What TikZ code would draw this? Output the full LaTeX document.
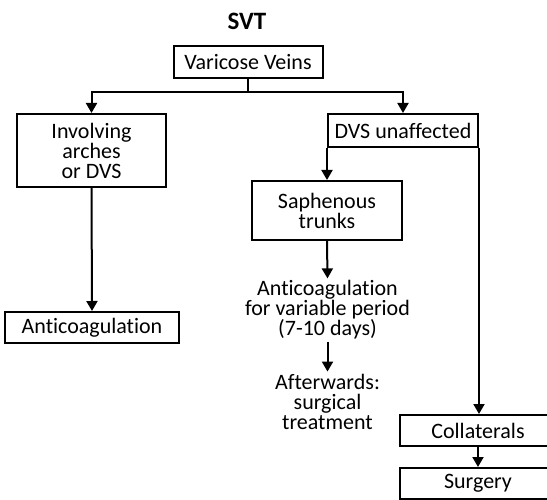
\documentclass[tikz,border=0pt]{standalone}
\usepackage{fontspec}
\setmainfont{Carlito}[Ligatures=NoCommon]
\usetikzlibrary{arrows.meta}
\begin{document}
\begin{tikzpicture}[x=1pt,y=-1pt,
  lbl/.style={font=\fontsize{22}{20}\selectfont, align=center},
  box/.style={lbl, draw, line width=2pt, inner sep=0pt},
  txt/.style={lbl, inner sep=2pt},
  arr/.style={line width=2pt, -{Triangle[width=11pt,length=10pt]}}]
\useasboundingbox (0,0) rectangle (547,500);
\clip (0,0) rectangle (547,500);
\node[font=\bfseries\fontsize{25}{30}\selectfont] (title) at (247,21) {SVT};
\node[box, minimum width=149pt, minimum height=32pt] (vv) at (248,62) {Varicose Veins};
\node[box, minimum width=149pt, minimum height=73pt] (inv) at (91.5,150.5) {Involving\\arches\\or DVS};
\node[box, minimum width=150pt, minimum height=33pt] (dvs) at (403,130.5) {DVS unaffected};
\node[box, minimum width=174pt, minimum height=31pt] (anti) at (92,327.5) {Anticoagulation};
\node[box, minimum width=150pt, minimum height=59pt] (sap) at (327,210.5) {Saphenous\\trunks};
\node[txt] (var) at (327.5,310) {Anticoagulation\\for variable period\\(7-10 days)};
\node[txt] (aft) at (327.5,401.5) {Afterwards:\\surgical\\treatment};
\node[box, minimum width=156pt, minimum height=31pt] (col) at (478,430.5) {Collaterals};
\node[box, minimum width=156pt, minimum height=31pt] (surg) at (478,483.5) {Surgery};
\draw[arr] (vv.south) -- ++(0,13) -| (inv.north);
\draw[arr] (vv.south) -- ++(0,13) -| (dvs.north);
\draw[arr] (inv.south) -- (anti.north);
\draw[arr] (dvs.south west) -- (dvs.south west |- sap.north);
\draw[arr] (dvs.south east) -- (dvs.south east |- col.north);
\draw[arr] (sap.south) -- (var.north);
\draw[arr] (var.south) -- (aft.north);
\draw[arr] (col.south) -- (surg.north);
\end{tikzpicture}
\end{document}
